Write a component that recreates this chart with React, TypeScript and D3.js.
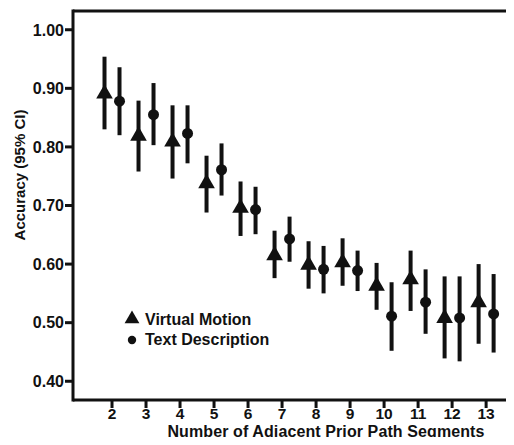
import React from "react";
import * as d3 from "d3";

const categories = [2, 3, 4, 5, 6, 7, 8, 9, 10, 11, 12, 13];
const virtualMean = [0.889, 0.817, 0.807, 0.736, 0.694, 0.613, 0.597, 0.601, 0.561, 0.572, 0.506, 0.533];
const virtualLow = [0.830, 0.758, 0.746, 0.688, 0.648, 0.576, 0.558, 0.563, 0.522, 0.520, 0.439, 0.464];
const virtualHigh = [0.954, 0.879, 0.871, 0.785, 0.741, 0.657, 0.639, 0.644, 0.602, 0.623, 0.579, 0.600];
const textMean = [0.878, 0.855, 0.823, 0.761, 0.693, 0.643, 0.591, 0.589, 0.511, 0.535, 0.508, 0.515];
const textLow = [0.820, 0.803, 0.772, 0.717, 0.651, 0.604, 0.550, 0.554, 0.452, 0.481, 0.434, 0.449];
const textHigh = [0.936, 0.909, 0.871, 0.806, 0.732, 0.681, 0.631, 0.623, 0.569, 0.591, 0.579, 0.583];
const yTicks = [0.4, 0.5, 0.6, 0.7, 0.8, 0.9, 1.0];
const seriesNames = ["Virtual Motion", "Text Description"];
const xTitle = "Number of Adjacent Prior Path Segments";
const yTitle = "Accuracy (95% CI)";

const W = 514;
const H = 445;
const FONT = "'Liberation Sans', Arial, sans-serif";
const INK = "#111";

export default function App() {
  const x = d3.scaleLinear().domain([0.853, 13.82]).range([73, 514]);
  const y = d3.scaleLinear().domain([0.368, 1.032]).range([400, 11]);
  const off = 7.5;
  const tri = d3.symbol().type(d3.symbolTriangle).size(120)();
  const triLeg = d3.symbol().type(d3.symbolTriangle).size(95)();

  const [x0, x1] = x.range();
  const [yb, yt] = y.range();

  return (
    <div style={{ margin: -8, height: H, overflow: "hidden" }}>
      <svg width={W} height={H} style={{ display: "block", background: "#fff" }}>
        {/* frame */}
        <line x1={x0} x2={x1} y1={yt} y2={yt} stroke={INK} strokeWidth={3} />
        <line x1={x0} x2={x0} y1={yt - 1.5} y2={yb + 1.5} stroke={INK} strokeWidth={3} />
        <line x1={x0} x2={x1} y1={yb} y2={yb} stroke={INK} strokeWidth={3} />

        {/* y ticks */}
        {yTicks.map((t) => (
          <g key={t}>
            <line x1={x0 - 8} x2={x0} y1={y(t)} y2={y(t)} stroke={INK} strokeWidth={3} />
            <text x={x0 - 9} y={y(t)} dy="0.36em" textAnchor="end" fontFamily={FONT} fontWeight="bold" fontSize={16} fill={INK}>
              {t.toFixed(2)}
            </text>
          </g>
        ))}

        {/* x ticks */}
        {categories.map((c) => (
          <g key={c}>
            <line x1={x(c)} x2={x(c)} y1={yb} y2={yb + 8} stroke={INK} strokeWidth={3} />
            <text x={x(c)} y={419} textAnchor="middle" fontFamily={FONT} fontWeight="bold" fontSize={15.5} fill={INK}>
              {c}
            </text>
          </g>
        ))}

        {/* titles */}
        <text x={326} y={437} textAnchor="middle" fontFamily={FONT} fontWeight="bold" fontSize={16} letterSpacing={0.1} fill={INK}>
          {xTitle}
        </text>
        <text transform={`translate(25,175) rotate(-90)`} textAnchor="middle" fontFamily={FONT} fontWeight="bold" fontSize={15} fill={INK}>
          {yTitle}
        </text>

        {/* virtual motion */}
        {categories.map((c, i) => (
          <g key={"v" + c}>
            <line x1={x(c) - off} x2={x(c) - off} y1={y(virtualLow[i])} y2={y(virtualHigh[i])} stroke={INK} strokeWidth={4} />
            <path d={tri} transform={`translate(${x(c) - off},${y(virtualMean[i]) - 1})`} fill={INK} />
          </g>
        ))}
        {/* text description */}
        {categories.map((c, i) => (
          <g key={"t" + c}>
            <line x1={x(c) + off} x2={x(c) + off} y1={y(textLow[i])} y2={y(textHigh[i])} stroke={INK} strokeWidth={4} />
            <circle cx={x(c) + off} cy={y(textMean[i])} r={5.5} fill={INK} />
          </g>
        ))}

        {/* legend */}
        <path d={triLeg} transform="translate(132,319)" fill={INK} />
        <text x={145} y={325} fontFamily={FONT} fontWeight="bold" fontSize={16} fill={INK}>
          {seriesNames[0]}
        </text>
        <circle cx={132} cy={340} r={4.2} fill={INK} />
        <text x={145} y={345} fontFamily={FONT} fontWeight="bold" fontSize={16} fill={INK}>
          {seriesNames[1]}
        </text>
      </svg>
    </div>
  );
}
